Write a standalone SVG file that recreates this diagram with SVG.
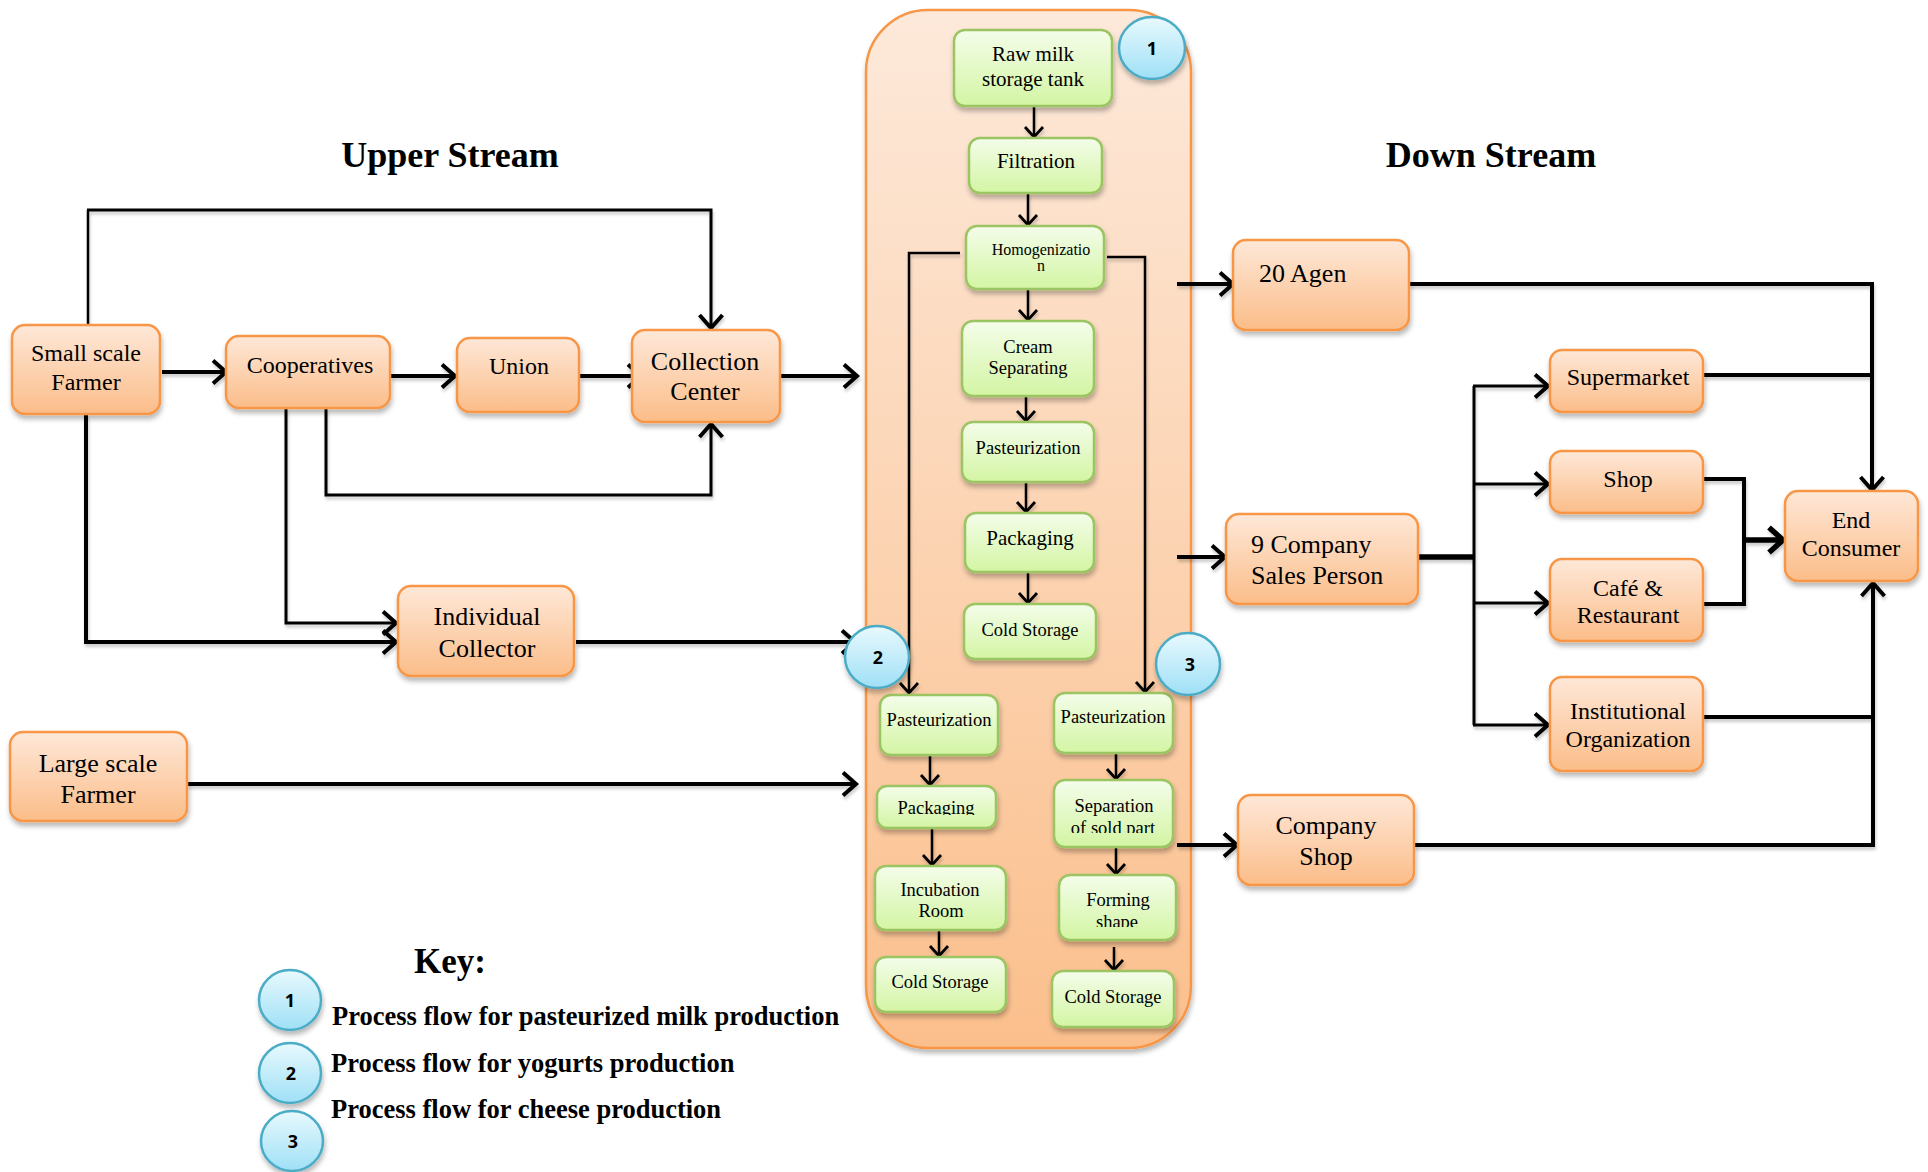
<svg xmlns="http://www.w3.org/2000/svg" width="1928" height="1172" viewBox="0 0 1928 1172">
  <defs>
    <linearGradient id="gOrange" x1="0" y1="0" x2="0" y2="1">
      <stop offset="0" stop-color="#fee8d8"/>
      <stop offset="1" stop-color="#fbbd89"/>
    </linearGradient>
    <linearGradient id="gPanel" x1="0" y1="0" x2="0" y2="1">
      <stop offset="0" stop-color="#fde9da"/>
      <stop offset="1" stop-color="#fbbf8c"/>
    </linearGradient>
    <linearGradient id="gGreen" x1="0" y1="0" x2="0" y2="1">
      <stop offset="0" stop-color="#f4fdea"/>
      <stop offset="1" stop-color="#d3f5a3"/>
    </linearGradient>
    <linearGradient id="gBlue" x1="0" y1="0" x2="0" y2="1">
      <stop offset="0" stop-color="#e8f9fe"/>
      <stop offset="1" stop-color="#9fe0f6"/>
    </linearGradient>
    <filter id="shadow" x="-20%" y="-20%" width="140%" height="150%">
      <feDropShadow dx="1" dy="4" stdDeviation="2.5" flood-color="#000" flood-opacity="0.28"/>
    </filter>
    <filter id="lineShadow" x="-5%" y="-5%" width="110%" height="110%">
      <feDropShadow dx="1" dy="3" stdDeviation="1.5" flood-color="#000" flood-opacity="0.2"/>
    </filter>
    <marker id="arr" markerUnits="userSpaceOnUse" markerWidth="20" markerHeight="28" refX="15" refY="14" orient="auto">
      <path d="M2,2.5 L15,14 L2,25.5" fill="none" stroke="#000" stroke-width="4"/>
    </marker>
    <marker id="arrS" markerUnits="userSpaceOnUse" markerWidth="16" markerHeight="22" refX="12" refY="11" orient="auto">
      <path d="M2,2 L12,11 L2,20" fill="none" stroke="#000" stroke-width="2.8"/>
    </marker>
    <marker id="arrB" markerUnits="userSpaceOnUse" markerWidth="20" markerHeight="30" refX="16" refY="15" orient="auto">
      <path d="M2,2.5 L16,15 L2,27.5" fill="none" stroke="#000" stroke-width="5.5"/>
    </marker>
    <clipPath id="clipPack2"><rect x="870" y="780" width="140" height="35"/></clipPath>
    <clipPath id="clipSep"><rect x="1050" y="812" width="130" height="21"/></clipPath>
    <clipPath id="clipForm"><rect x="1050" y="908" width="130" height="19"/></clipPath>
  </defs>
  <style>
    .on { fill: url(#gOrange); stroke: #f79646; stroke-width: 2.5; filter: url(#shadow); }
    .gn { fill: url(#gGreen); stroke: #9bc462; stroke-width: 2.5; filter: url(#shadow); }
    .bc { fill: url(#gBlue); stroke: #4bacc6; stroke-width: 2.5; filter: url(#shadow); }
    .t { font-family: "Liberation Serif", "Times New Roman", serif; fill: #000; text-anchor: middle; }
    .t.ls { text-anchor: start; }
    .o24 { font-size: 24px; }
    .o26 { font-size: 26px; }
    .g21 { font-size: 21px; }
    .g18 { font-size: 18.5px; }
    .g16 { font-size: 16px; }
    .hd { font-family: "Liberation Serif", "Times New Roman", serif; font-weight: bold; fill: #000; }
    .num { font-family: "Open Sans", "Liberation Sans", sans-serif; font-weight: bold; font-size: 18px; text-anchor: middle; fill: #000; }
    .c { fill: none; stroke: #000; stroke-linejoin: miter; }
    .w4 { stroke-width: 4; }
    .w3 { stroke-width: 3; }
    .w2 { stroke-width: 2.5; }
    .w5 { stroke-width: 5.5; }
  </style>

  <rect width="1928" height="1172" fill="#fff"/>

  <!-- headings -->
  <text class="hd" x="450" y="167" font-size="36" text-anchor="middle">Upper Stream</text>
  <text class="hd" x="1491" y="167" font-size="36" text-anchor="middle">Down Stream</text>

  <!-- processing plant panel -->
  <g id="plant">
    <rect x="866" y="10" width="325" height="1038" rx="62" fill="url(#gPanel)" stroke="#f79646" stroke-width="2.5" filter="url(#shadow)"/>
  </g>

  <!-- connectors -->
  <g id="connectors" filter="url(#lineShadow)">
    <!-- upstream -->
    <path class="c w2" d="M88,324 V210"/>
    <path class="c w3" d="M87,210 H711 V328" marker-end="url(#arr)"/>
    <path class="c w4" d="M162,372 H226" marker-end="url(#arr)"/>
    <path class="c w4" d="M391,376 H455" marker-end="url(#arr)"/>
    <path class="c w4" d="M580,376 H641" marker-end="url(#arr)"/>
    <path class="c w4" d="M781,376 H857" marker-end="url(#arr)"/>
    <path class="c w3" d="M326,409 V495 H711 V424" marker-end="url(#arr)"/>
    <path class="c w3" d="M286,409 V623 H396" marker-end="url(#arr)"/>
    <path class="c w4" d="M86,414 V642 H396" marker-end="url(#arr)"/>
    <path class="c w4" d="M576,642 H855" marker-end="url(#arr)"/>
    <path class="c w4" d="M187,784 H856" marker-end="url(#arr)"/>

    <!-- plant: pasteurized milk line -->
    <path class="c w2" d="M1034,106 V137" marker-end="url(#arrS)"/>
    <path class="c w2" d="M1028,193 V225" marker-end="url(#arrS)"/>
    <path class="c w2" d="M1028,289 V320" marker-end="url(#arrS)"/>
    <path class="c w2" d="M1026,396 V421" marker-end="url(#arrS)"/>
    <path class="c w2" d="M1026,482 V512" marker-end="url(#arrS)"/>
    <path class="c w2" d="M1028,572 V603" marker-end="url(#arrS)"/>
    <!-- plant: branches to yogurt and cheese lines -->
    <path class="c w2" d="M960,253 H909 V693" marker-end="url(#arrS)"/>
    <path class="c w2" d="M1107,257 H1145 V692" marker-end="url(#arrS)"/>
    <!-- plant: yogurt line -->
    <path class="c w2" d="M930,755 V785" marker-end="url(#arrS)"/>
    <path class="c w2" d="M932,828 V865" marker-end="url(#arrS)"/>
    <path class="c w2" d="M939,930 V956" marker-end="url(#arrS)"/>
    <!-- plant: cheese line -->
    <path class="c w2" d="M1116,753 V779" marker-end="url(#arrS)"/>
    <path class="c w2" d="M1116,847 V874" marker-end="url(#arrS)"/>
    <path class="c w2" d="M1114,947 V970" marker-end="url(#arrS)"/>

    <!-- downstream -->
    <path class="c w4" d="M1177,284 H1233" marker-end="url(#arr)"/>
    <path class="c w4" d="M1177,557 H1225" marker-end="url(#arr)"/>
    <path class="c w4" d="M1177,845 H1237" marker-end="url(#arr)"/>
    <path class="c w4" d="M1409,284 H1872 V490" marker-end="url(#arr)"/>
    <path class="c w4" d="M1703,375 H1872"/>
    <path class="c w5" d="M1418,557 H1474"/>
    <path class="c w3" d="M1474,386 V725"/>
    <path class="c w3" d="M1473,386 H1548" marker-end="url(#arr)"/>
    <path class="c w3" d="M1474,484 H1548" marker-end="url(#arr)"/>
    <path class="c w3" d="M1474,603 H1548" marker-end="url(#arr)"/>
    <path class="c w3" d="M1473,725 H1548" marker-end="url(#arr)"/>
    <path class="c w4" d="M1703,479 H1744 V604 H1703"/>
    <path class="c w5" d="M1744,540 H1783" marker-end="url(#arrB)"/>
    <path class="c w4" d="M1703,717 H1873"/>
    <path class="c w4" d="M1414,845 H1873 V583" marker-end="url(#arr)"/>
  </g>

  <!-- upstream actors -->
  <g id="small-farmer">
    <rect class="on" x="12" y="325" width="148" height="89" rx="13"/>
    <text class="t o24" x="86" y="361">Small scale</text>
    <text class="t o24" x="86" y="390">Farmer</text>
  </g>
  <g id="cooperatives">
    <rect class="on" x="226" y="336" width="164" height="72" rx="13"/>
    <text class="t o24" x="310" y="373">Cooperatives</text>
  </g>
  <g id="union">
    <rect class="on" x="457" y="338" width="122" height="74" rx="13"/>
    <text class="t o24" x="519" y="374">Union</text>
  </g>
  <g id="collection-center">
    <rect class="on" x="632" y="330" width="148" height="92" rx="13"/>
    <text class="t o26" x="705" y="370">Collection</text>
    <text class="t o26" x="705" y="400">Center</text>
  </g>
  <g id="individual-collector">
    <rect class="on" x="398" y="586" width="176" height="90" rx="13"/>
    <text class="t o26" x="487" y="625">Individual</text>
    <text class="t o26" x="487" y="657">Collector</text>
  </g>
  <g id="large-farmer">
    <rect class="on" x="10" y="732" width="177" height="89" rx="13"/>
    <text class="t o26" x="98" y="772">Large scale</text>
    <text class="t o26" x="98" y="803">Farmer</text>
  </g>

  <!-- pasteurized milk line -->
  <g id="raw-milk">
    <rect class="gn" x="954" y="30" width="158" height="76" rx="11"/>
    <text class="t g21" x="1033" y="61">Raw milk</text>
    <text class="t g21" x="1033" y="86">storage tank</text>
  </g>
  <g id="filtration">
    <rect class="gn" x="969" y="138" width="133" height="55" rx="11"/>
    <text class="t g21" x="1036" y="168">Filtration</text>
  </g>
  <g id="homogenization">
    <rect class="gn" x="966" y="226" width="138" height="63" rx="11"/>
    <text class="t g16" x="1041" y="255">Homogenizatio</text>
    <text class="t g16" x="1041" y="271">n</text>
  </g>
  <g id="cream-separating">
    <rect class="gn" x="962" y="321" width="132" height="75" rx="11"/>
    <text class="t g18" x="1028" y="353">Cream</text>
    <text class="t g18" x="1028" y="374">Separating</text>
  </g>
  <g id="pasteurization-1">
    <rect class="gn" x="962" y="422" width="132" height="60" rx="11"/>
    <text class="t g18" x="1028" y="454">Pasteurization</text>
  </g>
  <g id="packaging-1">
    <rect class="gn" x="965" y="513" width="129" height="59" rx="11"/>
    <text class="t g21" x="1030" y="545">Packaging</text>
  </g>
  <g id="cold-storage-1">
    <rect class="gn" x="964" y="604" width="132" height="55" rx="11"/>
    <text class="t g18" x="1030" y="636">Cold Storage</text>
  </g>

  <!-- yogurt line -->
  <g id="pasteurization-2">
    <rect class="gn" x="880" y="695" width="118" height="60" rx="11"/>
    <text class="t g18" x="939" y="726">Pasteurization</text>
  </g>
  <g id="packaging-2">
    <rect class="gn" x="877" y="786" width="119" height="42" rx="10"/>
    <text class="t g18" x="936" y="814" clip-path="url(#clipPack2)">Packaging</text>
  </g>
  <g id="incubation-room">
    <rect class="gn" x="875" y="866" width="131" height="64" rx="11"/>
    <text class="t g18" x="940" y="896">Incubation</text>
    <text class="t g18" x="941" y="917">Room</text>
  </g>
  <g id="cold-storage-2">
    <rect class="gn" x="875" y="957" width="131" height="55" rx="11"/>
    <text class="t g18" x="940" y="988">Cold Storage</text>
  </g>

  <!-- cheese line -->
  <g id="pasteurization-3">
    <rect class="gn" x="1054" y="693" width="119" height="60" rx="11"/>
    <text class="t g18" x="1113" y="723">Pasteurization</text>
  </g>
  <g id="separation">
    <rect class="gn" x="1054" y="780" width="119" height="67" rx="11"/>
    <text class="t g18" x="1114" y="812">Separation</text>
    <text class="t g18" x="1113" y="834" clip-path="url(#clipSep)">of sold part</text>
  </g>
  <g id="forming-shape">
    <rect class="gn" x="1059" y="875" width="117" height="65" rx="11"/>
    <text class="t g18" x="1118" y="906">Forming</text>
    <text class="t g18" x="1117" y="928" clip-path="url(#clipForm)">shape</text>
  </g>
  <g id="cold-storage-3">
    <rect class="gn" x="1052" y="971" width="122" height="56" rx="11"/>
    <text class="t g18" x="1113" y="1003">Cold Storage</text>
  </g>

  <!-- line markers -->
  <g id="marker-1">
    <ellipse class="bc" cx="1152" cy="48" rx="33" ry="31"/>
    <text class="num" x="1152" y="55">1</text>
  </g>
  <g id="marker-2">
    <ellipse class="bc" cx="877" cy="657" rx="32" ry="31"/>
    <text class="num" x="878" y="664">2</text>
  </g>
  <g id="marker-3">
    <ellipse class="bc" cx="1188" cy="664" rx="32" ry="31"/>
    <text class="num" x="1190" y="671">3</text>
  </g>

  <!-- downstream actors -->
  <g id="agents">
    <rect class="on" x="1233" y="240" width="176" height="90" rx="13"/>
    <text class="t ls o26" x="1259" y="282">20 Agen</text>
  </g>
  <g id="sales-person">
    <rect class="on" x="1226" y="514" width="192" height="90" rx="13"/>
    <text class="t ls o26" x="1251" y="553">9 Company</text>
    <text class="t ls o26" x="1251" y="584">Sales Person</text>
  </g>
  <g id="company-shop">
    <rect class="on" x="1238" y="795" width="176" height="90" rx="13"/>
    <text class="t o26" x="1326" y="834">Company</text>
    <text class="t o26" x="1326" y="865">Shop</text>
  </g>
  <g id="supermarket">
    <rect class="on" x="1550" y="350" width="153" height="62" rx="12"/>
    <text class="t o24" x="1628" y="385">Supermarket</text>
  </g>
  <g id="shop">
    <rect class="on" x="1550" y="451" width="153" height="62" rx="12"/>
    <text class="t o24" x="1628" y="487">Shop</text>
  </g>
  <g id="cafe">
    <rect class="on" x="1550" y="559" width="153" height="82" rx="12"/>
    <text class="t o24" x="1628" y="596">Café &amp;</text>
    <text class="t o24" x="1628" y="623">Restaurant</text>
  </g>
  <g id="institutional">
    <rect class="on" x="1550" y="677" width="153" height="94" rx="12"/>
    <text class="t o24" x="1628" y="719">Institutional</text>
    <text class="t o24" x="1628" y="747">Organization</text>
  </g>
  <g id="end-consumer">
    <rect class="on" x="1785" y="491" width="133" height="90" rx="13"/>
    <text class="t o24" x="1851" y="528">End</text>
    <text class="t o24" x="1851" y="556">Consumer</text>
  </g>

  <!-- key -->
  <g id="key">
    <text class="hd" x="450" y="973" font-size="35" text-anchor="middle">Key:</text>
    <ellipse class="bc" cx="290" cy="1000" rx="31" ry="30"/>
    <text class="num" x="290" y="1007">1</text>
    <ellipse class="bc" cx="290" cy="1073" rx="31" ry="30"/>
    <text class="num" x="291" y="1080">2</text>
    <ellipse class="bc" cx="292" cy="1141" rx="31" ry="30"/>
    <text class="num" x="293" y="1148">3</text>
    <text class="hd" x="332" y="1025" font-size="26.5">Process flow for pasteurized milk production</text>
    <text class="hd" x="331" y="1072" font-size="26.5">Process flow for yogurts production</text>
    <text class="hd" x="331" y="1118" font-size="26.5">Process flow for cheese production</text>
  </g>
</svg>
